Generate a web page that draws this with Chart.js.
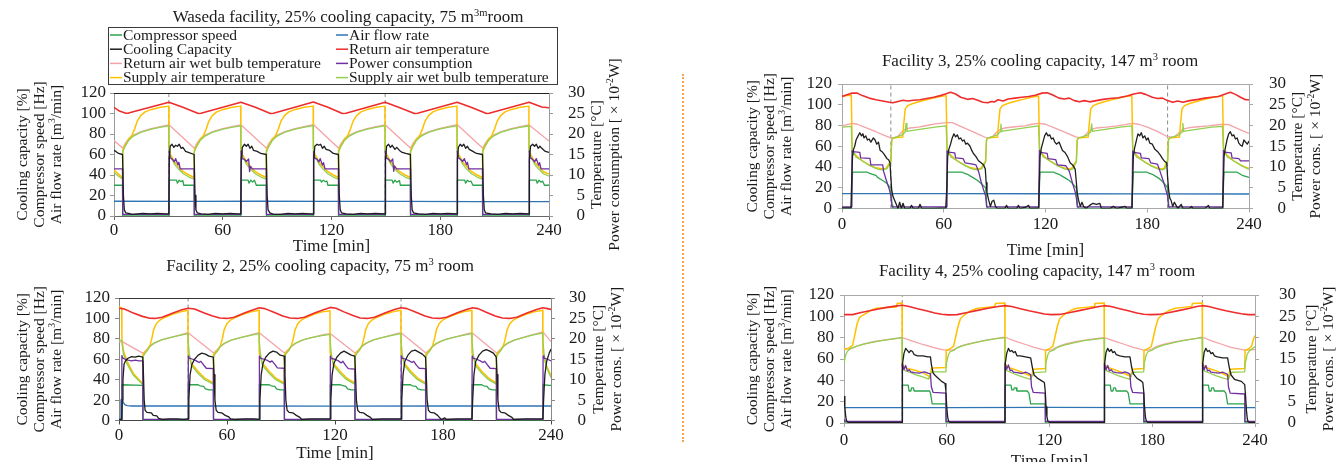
<!DOCTYPE html>
<html>
<head>
<meta charset="utf-8">
<script src="https://cdn.jsdelivr.net/npm/chart.js@4.4.1/dist/chart.umd.min.js"></script>
<style>
  html, body { margin: 0; padding: 0; background: #ffffff; }
  #wrap { position: relative; width: 1336px; height: 462px; overflow: hidden; background: #fff; }
  #wrap canvas { position: absolute; left: 0; top: 0; }
  #sep { position: absolute; left: 682px; top: 74px; height: 368px; border-left: 2px dotted #f2a54a; }
</style>
</head>
<body>
<div id="wrap">
  <div id="sep"></div>
  <canvas id="c1" width="1336" height="462"></canvas>
  <canvas id="c2" width="1336" height="462"></canvas>
  <canvas id="c3" width="1336" height="462"></canvas>
  <canvas id="c4" width="1336" height="462"></canvas>
</div>
<script>
// ---- Series values: flat [time(min), value, time, value, ...] ----
// Left axis: compressor speed [Hz], air flow [m3/min], cooling capacity [%]
// Right axis: temperatures [°C], power consumption [x10^-2 W]

// Waseda facility
const f1Comp = [0,30, 4.7,30, 4.8,0, 30.3,0, 30.4,35, 34.5,35, 35,32, 36,35, 37,33.5, 38,34.5, 38.5,30, 44.2,30, 44.3,0, 70,0, 70.1,35, 74,35, 74.5,32, 75.5,35, 76.5,33, 77.5,35, 78.5,30, 84,30, 84.1,0, 110,0, 110.1,35, 114,35, 114.5,33, 115.5,35, 116.5,33.5, 117.5,34, 118,30, 123.8,30, 123.9,0, 149.6,0, 149.7,35, 153.5,35, 154,32, 155,35, 156,33, 157.5,34.5, 158,30, 163.5,30, 163.6,0, 189.3,0, 189.4,35, 193.5,35, 194,32, 195,35, 196,33.5, 197,34, 198,30, 203.3,30, 203.4,0, 229,0, 229.1,35, 233,35, 233.5,32, 234.5,35, 235.5,33, 236.5,34, 237.5,30, 240,30];
const f1Flow = [0,14.4, 40,14.3, 80,14.4, 120,14.2, 160,14.3, 200,14.1, 240,14.0];
const f1Cap = [0,64, 1,63, 2.5,61, 4.7,60, 5.2,20, 5.7,6, 6.5,3, 8,2.5, 10,1.5, 13,2, 16,2.5, 20,2, 24,2.5, 28,2, 30.3,2,
  30.5,55, 31,68, 32,70, 33,67, 34,69, 35,68, 36,70, 37,66, 38,67, 39.5,63, 41,62, 44.2,60, 44.7,20, 45.2,6, 46,3, 48,2, 52,1.5, 56,2.5, 60,2, 64,2.5, 68,2, 70,2,
  70.2,55, 70.8,67, 72,70, 73,68, 74,70, 75,66, 76,68, 77,64, 79,63, 81,61, 84,60, 84.5,20, 85,6, 86,3, 88,1.5, 92,1.5, 96,2.5, 100,2, 104,2.5, 108,2, 110,2,
  110.2,55, 110.8,68, 112,70, 113,69, 114,70, 115,66, 116,68, 117,65, 119,64, 121,61, 123.8,60, 124.3,20, 124.8,6, 125.6,3, 128,2, 132,1.5, 136,2.5, 140,2, 144,2.5, 149.6,2,
  149.8,55, 150.4,68, 151.5,70, 152.5,67, 153.5,69, 155,65, 156,67, 157.5,64, 159,62, 161,61, 163.5,60, 164,20, 164.5,6, 165.3,3, 168,2, 172,1.5, 176,2.5, 180,2, 184,2.5, 189.3,2,
  189.5,55, 190,67, 191,70, 192,68, 193,70, 194,66, 195,68, 196,65, 198,63, 200,61, 203.3,60, 203.8,20, 204.3,6, 205,3, 208,2, 212,1.5, 216,2.5, 220,2, 224,2.5, 229,2,
  229.2,55, 229.8,68, 231,70, 232,68, 233,70, 234,66, 235,68, 236,66, 238,63, 240,62];
const f1Ret = [0,26.5, 3,25.6, 6.5,25.05, 8,25.1, 30.3,27.75, 38,26.5, 46.5,25.0, 48,25.05, 70,27.75, 78,26.5, 86.3,25.0, 88,25.05, 110,27.8, 118,26.5, 126,25.0, 128,25.05, 149.6,27.75, 157,26.5, 165.8,25.0, 167.5,25.05, 189.3,27.75, 197,26.5, 205.5,25.0, 207,25.05, 229,27.75, 236,26.6, 240,26.4];
const f1RetWb = [0,18.4, 4.7,16.6, 5.3,16.9, 6,17.6, 8,18.8, 11,19.8, 15,20.6, 20.5,21.3, 25.5,21.8, 30.3,22.25, 44.2,16.6, 44.8,16.9, 45.5,17.6, 47.5,18.8, 50.5,19.8, 54.5,20.6, 60,21.3, 65,21.8, 70,22.25, 84,16.6, 84.6,16.9, 85.3,17.6, 87.3,18.8, 90.3,19.8, 94.3,20.6, 99.8,21.3, 104.8,21.8, 110,22.3, 123.8,16.6, 124.4,16.9, 125.1,17.6, 127.1,18.8, 130.1,19.8, 134.1,20.6, 139.6,21.3, 144.6,21.8, 149.6,22.25, 163.5,16.6, 164.1,16.9, 164.8,17.6, 166.8,18.8, 169.8,19.8, 173.8,20.6, 179.3,21.3, 184.3,21.8, 189.3,22.3, 203.3,16.6, 203.9,16.9, 204.6,17.6, 206.6,18.8, 209.6,19.8, 213.6,20.6, 219.1,21.3, 224.1,21.8, 229,22.2, 240,18.3];
const f1Pow = [0,11.5, 4.7,11.5, 4.8,0.4, 30.3,0.4, 30.4,15.8, 30.9,14.2, 32.3,13.8, 33.3,13.2, 34,14, 35.3,12.5, 35.8,13.1, 36.5,11.5, 44.2,11.5, 44.3,0.4, 70,0.4, 70.1,15.8, 70.6,14.0, 72,13.8, 73,13.3, 74.3,13.9, 74.8,10.8, 75.3,12.1, 76.3,11.5, 84,11.5, 84.1,0.4, 110,0.4, 110.1,15.7, 110.6,14.1, 112,13.9, 113,13.2, 113.8,14, 115,12.4, 115.6,13, 116.4,11.5, 123.8,11.5, 123.9,0.4, 149.6,0.4, 149.7,15.8, 150.2,14.1, 151.6,13.8, 152.6,13.2, 153.8,13.9, 154.3,10.9, 154.8,12.2, 155.8,11.5, 163.5,11.5, 163.6,0.4, 189.3,0.4, 189.4,15.8, 189.9,14.2, 191.3,13.8, 192.3,13.3, 193.3,14, 194.5,12.5, 195,13.1, 195.8,11.5, 203.3,11.5, 203.4,0.4, 229,0.4, 229.1,15.9, 229.6,14.2, 231,13.8, 232,13.2, 233,14, 234.3,12.4, 234.8,13, 235.6,11.5, 240,11.5];
const f1Sup = [0,11.2, 2,10.4, 4.7,9.4, 4.8,16.1, 5.7,16.9, 6.7,17.6, 8,18.7, 9.7,19.5, 11.2,21, 12.7,23, 14.7,24.5, 17.2,25.4, 20.7,26, 25.7,26.5, 30.2,26.8,
  30.3,16.6, 31.2,15, 32.2,14.2, 33.3,13.3, 34.3,12.7, 35.3,12.2, 38.3,10.8, 41.3,10, 44.2,9.4, 44.3,16.1, 45.2,16.9, 46.2,17.6, 47.5,18.7, 49.2,19.5, 50.7,21, 52.2,23, 54.2,24.5, 56.7,25.4, 60.2,26, 65.2,26.5, 69.9,26.8,
  70,16.6, 70.9,15, 71.9,14.2, 73,13.3, 74,12.7, 75,12.2, 78,10.8, 81,10, 84,9.4, 84.1,16.1, 85,16.9, 86,17.6, 87.3,18.7, 89,19.5, 90.5,21, 92,23, 94,24.5, 96.5,25.4, 100,26, 105,26.5, 109.9,26.8,
  110,16.6, 110.9,15, 111.9,14.2, 113,13.3, 114,12.7, 115,12.2, 118,10.8, 121,10, 123.8,9.4, 123.9,16.1, 124.8,16.9, 125.8,17.6, 127.1,18.7, 128.8,19.5, 130.3,21, 131.8,23, 133.8,24.5, 136.3,25.4, 139.8,26, 144.8,26.5, 149.5,26.8,
  149.6,16.6, 150.5,15, 151.5,14.2, 152.6,13.3, 153.6,12.7, 154.6,12.2, 157.6,10.8, 160.6,10, 163.5,9.4, 163.6,16.1, 164.5,16.9, 165.5,17.6, 166.8,18.7, 168.5,19.5, 170,21, 171.5,23, 173.5,24.5, 176,25.4, 179.5,26, 184.5,26.5, 189.2,26.8,
  189.3,16.6, 190.2,15, 191.2,14.2, 192.3,13.3, 193.3,12.7, 194.3,12.2, 197.3,10.8, 200.3,10, 203.3,9.4, 203.4,16.1, 204.3,16.9, 205.3,17.6, 206.6,18.7, 208.3,19.5, 209.8,21, 211.3,23, 213.3,24.5, 215.8,25.4, 219.3,26, 224.3,26.5, 228.9,26.8,
  229,16.6, 229.9,15, 230.9,14.2, 232,13.3, 233,12.7, 234,12.2, 237,10.8, 240,10.2];
const f1SupWb = [0,10.6, 2,9.9, 4.7,9.0, 4.8,15.6, 5.7,16.6, 6.7,17.4, 8,18.4, 10.7,19.5, 14.7,20.4, 20.2,21.1, 25.2,21.6, 30.2,22.0,
  30.3,15.8, 31.3,14.4, 32.3,13.6, 33.3,12.7, 34.3,12.1, 35.3,11.6, 38.3,10.3, 41.3,9.5, 44.2,9.0, 44.3,15.6, 45.2,16.6, 46.2,17.4, 47.5,18.4, 50.2,19.5, 54.2,20.4, 59.7,21.1, 64.7,21.6, 69.9,22.0,
  70,15.8, 71,14.4, 72,13.6, 73,12.7, 74,12.1, 75,11.6, 78,10.3, 81,9.5, 84,9.0, 84.1,15.6, 85,16.6, 86,17.4, 87.3,18.4, 90,19.5, 94,20.4, 99.5,21.1, 104.5,21.6, 109.9,22.05,
  110,15.8, 111,14.4, 112,13.6, 113,12.7, 114,12.1, 115,11.6, 118,10.3, 121,9.5, 123.8,9.0, 123.9,15.6, 124.8,16.6, 125.8,17.4, 127.1,18.4, 129.8,19.5, 133.8,20.4, 139.3,21.1, 144.3,21.6, 149.5,22.0,
  149.6,15.8, 150.6,14.4, 151.6,13.6, 152.6,12.7, 153.6,12.1, 154.6,11.6, 157.6,10.3, 160.6,9.5, 163.5,9.0, 163.6,15.6, 164.5,16.6, 165.5,17.4, 166.8,18.4, 169.5,19.5, 173.5,20.4, 179,21.1, 184,21.6, 189.2,22.0,
  189.3,15.8, 190.3,14.4, 191.3,13.6, 192.3,12.7, 193.3,12.1, 194.3,11.6, 197.3,10.3, 200.3,9.5, 203.3,9.0, 203.4,15.6, 204.3,16.6, 205.3,17.4, 206.6,18.4, 209.3,19.5, 213.3,20.4, 218.8,21.1, 223.8,21.6, 228.9,21.95,
  229,15.8, 230,14.4, 231,13.6, 232,12.7, 233,12.1, 234,11.6, 237,10.3, 240,9.7];
const f1Marks = [30.3, 149.6];

// Facility 2
const f2Comp = [0,0, 1.5,0, 1.6,35, 13.2,34.5, 13.3,0, 38.4,0, 38.5,35, 44,35, 45,34, 47,33.5, 48,31, 50,30, 52.4,30, 52.5,0, 77.9,0, 78,35, 83.5,35, 84.5,34, 86.5,33.5, 87.5,31, 89.5,30, 91.8,30, 91.9,0, 117.3,0, 117.4,35, 123,35, 124,34.5, 126,33.5, 127,31, 129,30, 131,30, 131.1,0, 156.7,0, 156.8,35, 162,35, 163,34, 165,33.5, 166,31, 168,30, 170.3,30, 170.4,0, 196.1,0, 196.2,35, 201.5,35, 202.5,34, 204.5,33.5, 205.5,31, 207.5,30, 209.6,30, 209.7,0, 235.5,0, 235.6,35, 239,34.5, 240,34.5];
const f2Flow = [0,0.5, 0.8,2, 1.1,20, 1.6,22, 2.3,18, 3.2,15.5, 4.5,14.5, 7,14.2, 60,14.2, 120,14.1, 180,14.2, 240,14.2];
const f2Cap = [0,0.5, 1.5,0.5, 1.8,20, 2.2,40, 2.8,55, 3.5,58, 5,61, 7,62.5, 9,62, 11,63, 13.2,62, 13.5,50, 14,20, 14.5,10, 15.5,8, 18,7.5, 19,5, 21,4.5, 22,2, 24,1, 28,1.5, 32,1.5, 36,1.2, 38.4,1.5,
  38.8,20, 39.5,45, 40.5,55, 42,60, 44,64, 46,66, 48,65, 50,63, 52.4,62, 52.8,45, 53.3,20, 54,10, 55,8, 57,7.5, 59,5, 61,3.5, 62,1.5, 64,1, 70,1.5, 75,1.5, 77.9,1.2,
  78.3,20, 79,45, 80,56, 81.5,62, 83.5,66, 85.5,68, 87.5,67, 89.5,64, 91.8,63, 92.2,45, 92.7,20, 93.4,10, 94.5,8, 96.5,7.5, 98.5,5, 100.5,3, 101.5,1, 106,1.5, 112,1.5, 117.3,1.5,
  117.7,20, 118.4,45, 119.4,56, 121,62, 123,66, 125,68, 127,66, 129,64, 131,63, 131.4,45, 131.9,20, 132.6,10, 133.7,8, 135.7,7.5, 137.7,5, 139.7,3, 140.7,1, 146,1.5, 152,1.5, 156.7,1.5,
  157.1,20, 157.8,45, 158.8,58, 160.5,64, 162.5,68, 164.5,69, 166.5,67, 168.5,65, 170.3,62, 170.7,45, 171.2,20, 171.9,10, 173,8, 175,7.5, 177,5, 178,3, 179,1, 181,2.5, 182,1, 188,1.5, 196.1,1.5,
  196.5,20, 197.2,45, 198.2,58, 200,64, 202,68, 204,69.5, 206,68, 208,66, 209.6,62, 210,45, 210.5,20, 211.2,10, 212.3,8, 214.3,7.5, 216.3,5, 218.3,3, 219.3,1, 226,1.5, 235.5,1.5,
  235.9,20, 236.6,45, 237.6,58, 239,66, 240,70];
const f2Ret = [0,27.5, 3,27.3, 8,26.3, 13,25.5, 17,25.05, 20,25.0, 24,25.3, 30,26.3, 35,27.1, 38.4,27.5, 42,27.3, 47,26.4, 52,25.6, 56,25.1, 60,25.0, 64,25.3, 70,26.4, 75,27.2, 78,27.6, 81,27.4, 86,26.5, 91,25.6, 95,25.1, 99,25.0, 103,25.3, 109,26.4, 114,27.2, 117.5,27.7, 120.5,27.5, 125,26.6, 130,25.7, 134,25.1, 138,25.0, 142,25.3, 148,26.4, 153,27.2, 156.7,27.6, 160,27.4, 165,26.5, 170,25.6, 174,25.1, 178,25.0, 182,25.3, 188,26.4, 193,27.2, 196.5,27.6, 199.5,27.4, 204,26.5, 209,25.6, 213,25.1, 217,25.0, 221,25.3, 227,26.4, 232,27.2, 235.5,27.6, 238,27.4, 240,27.2];
const f2RetWb = [0,19.25, 2,19.25, 13.2,16.5, 13.8,16.6, 15,17.2, 17,18.1, 20,19, 24,19.8, 30,20.5, 35,21.1, 38.4,21.5, 52.4,16.6, 53,16.7, 54.2,17.2, 56.2,18.1, 59.2,19, 63.2,19.8, 69.2,20.5, 74.2,21.1, 77.9,21.5, 91.8,16.6, 92.4,16.7, 93.6,17.2, 95.6,18.1, 98.6,19, 102.6,19.8, 108.6,20.5, 113.6,21.0, 117.3,21.3, 131,16.6, 131.6,16.7, 132.8,17.2, 134.8,18.1, 137.8,19, 141.8,19.8, 147.8,20.5, 152.8,21.1, 156.7,21.5, 170.3,16.6, 170.9,16.7, 172.1,17.2, 174.1,18.1, 177.1,19, 181.1,19.8, 187.1,20.5, 192.1,21.1, 196.1,21.5, 209.6,16.6, 210.2,16.7, 211.4,17.2, 213.4,18.1, 216.4,19, 220.4,19.8, 226.4,20.6, 231.4,21.2, 235.5,21.7, 240,19.3];
const f2Pow = [0,0.3, 1.5,0.3, 1.6,15.9, 2.1,15.3, 3,15.1, 5,14.8, 7,14.6, 9,14.8, 11,14.6, 13.2,14.6, 13.3,0.3,
  38.4,0.3, 38.5,15.8, 39,15.3, 41,15, 43,14.6, 44.5,14.2, 45.5,14.5, 47,13.6, 48.5,12.8, 52.4,12.7, 52.5,0.3,
  77.9,0.3, 78,15.8, 78.5,15.3, 80.5,15, 82.5,14.7, 84,14.3, 85,14.6, 86.5,13.8, 88,12.9, 91.8,12.8, 91.9,0.3,
  117.3,0.3, 117.4,15.8, 117.9,15.2, 119.9,15, 121.9,14.6, 123.4,14.1, 124.4,14.5, 125.9,13.5, 127.4,12.7, 131,12.6, 131.1,0.3,
  156.7,0.3, 156.8,15.8, 157.3,15.3, 159.3,15, 161.3,14.6, 162.8,14.2, 163.8,14.5, 165.3,13.5, 166.8,12.8, 170.3,12.7, 170.4,0.3,
  196.1,0.3, 196.2,15.8, 196.7,15.3, 198.7,15, 200.7,14.6, 202.2,14.2, 203.2,14.5, 204.7,13.6, 206.2,12.8, 209.6,12.7, 209.7,0.3,
  235.5,0.3, 235.6,15.8, 236.1,15.3, 238.1,15, 240,14.6];
const f2Sup = [0,27.8, 1.5,27.6, 1.6,20, 2.5,17, 4.5,14.5, 8,11.5, 13.2,9.0,
  13.3,16.2, 14.2,16.6, 15.7,17.3, 17.2,18.4, 18.2,20, 19.2,22.2, 20.7,23.7, 22.7,24.6, 25.7,25.3, 29.7,26, 34.2,26.6, 38.3,27.0,
  38.4,16.5, 40.2,14, 44,12, 47.6,10.4, 52.4,9.2,
  52.5,16.2, 53.4,16.6, 54.9,17.3, 56.4,18.4, 57.4,20, 58.4,22.2, 59.9,23.7, 61.9,24.6, 64.9,25.3, 68.9,26, 73.4,26.6, 77.8,27.0,
  77.9,16.5, 79.7,14, 83.5,12, 87.1,10.4, 91.8,9.2,
  91.9,16.2, 92.8,16.6, 94.3,17.3, 95.8,18.4, 96.8,20, 97.8,22.2, 99.3,23.7, 101.3,24.6, 104.3,25.3, 108.3,26, 112.8,26.6, 117.2,26.9,
  117.3,16.5, 119.1,14, 122.9,12, 126.5,10.4, 131,9.2,
  131.1,16.2, 132,16.6, 133.5,17.3, 135,18.4, 136,20, 137,22.2, 138.5,23.7, 140.5,24.6, 143.5,25.3, 147.5,26, 152,26.6, 156.6,27.0,
  156.7,16.5, 158.5,14, 162.3,12, 165.9,10.4, 170.3,9.2,
  170.4,16.2, 171.3,16.6, 172.8,17.3, 174.3,18.4, 175.3,20, 176.3,22.2, 177.8,23.7, 179.8,24.6, 182.8,25.3, 186.8,26, 191.3,26.6, 196,27.0,
  196.1,16.5, 197.9,14, 201.7,12, 205.3,10.4, 209.6,9.2,
  209.7,16.2, 210.6,16.6, 212.1,17.3, 213.6,18.4, 214.6,20, 215.6,22.2, 217.1,23.7, 219.1,24.6, 222.1,25.3, 226.1,26, 230.6,26.6, 235.4,27.0,
  235.5,16.5, 237.3,13.6, 240,11];
const f2SupWb = [0,19.7, 1.5,19.6, 1.6,19.2, 2.5,16.2, 4.5,13.8, 8,11.1, 13.2,8.8,
  13.3,15.5, 14.2,16.3, 15.7,17.1, 17.2,18.2, 19.2,18.9, 23.2,19.7, 28.2,20.3, 33.2,20.8, 38.3,21.3,
  38.4,19.5, 39,16.5, 40.2,13.5, 44,11.5, 47.6,10, 52.4,8.9,
  52.5,15.5, 53.4,16.3, 54.9,17.1, 56.4,18.2, 58.4,18.9, 62.4,19.7, 67.4,20.3, 72.4,20.8, 77.8,21.3,
  77.9,19.5, 78.5,16.5, 79.7,13.5, 83.5,11.5, 87.1,10, 91.8,8.9,
  91.9,15.5, 92.8,16.3, 94.3,17.1, 95.8,18.2, 97.8,18.9, 101.8,19.7, 106.8,20.3, 111.8,20.7, 117.2,21.1,
  117.3,19.5, 117.9,16.5, 119.1,13.5, 122.9,11.5, 126.5,10, 131,8.9,
  131.1,15.5, 132,16.3, 133.5,17.1, 135,18.2, 137,18.9, 141,19.7, 146,20.3, 151,20.8, 156.6,21.3,
  156.7,19.5, 157.3,16.5, 158.5,13.5, 162.3,11.5, 165.9,10, 170.3,8.9,
  170.4,15.5, 171.3,16.3, 172.8,17.1, 174.3,18.2, 176.3,18.9, 180.3,19.7, 185.3,20.3, 190.3,20.8, 196,21.3,
  196.1,19.5, 196.7,16.5, 197.9,13.5, 201.7,11.5, 205.3,10, 209.6,8.9,
  209.7,15.5, 210.6,16.3, 212.1,17.1, 213.6,18.2, 215.6,18.9, 219.6,19.7, 224.6,20.3, 229.6,20.9, 235.4,21.4,
  235.5,19.5, 236.1,16.5, 237.3,13.2, 240,10.5];
const f2Marks = [38.4, 156.7];

// Facility 3
const f3Comp = [0,0, 5.5,0, 6.2,35, 15,35, 16,34, 18,33, 20,32, 21,30, 23,28, 25,26, 26.5,24, 28,21, 28.8,20, 29.5,3, 30,0,
  61.5,0, 62.2,35, 71,35, 72,34, 74,33, 76,31, 78,29, 80,27, 82,24, 84,21, 84.7,20, 85.4,2, 86,0,
  116,0, 116.7,35, 125,35, 126,34, 128,33, 130,31, 132,29, 134,27, 136,24, 137.5,21, 138.2,20, 138.9,2, 139.5,0,
  171,0, 171.7,35, 180,35, 181,34, 183,33, 185,31, 187,29, 189,26, 191,22, 192,20, 192.7,2, 193.3,0,
  224.5,0, 225.2,35, 233,35, 234,34, 236,32, 238,31, 240,30];
const f3Flow = [0,14.4, 60,14.3, 120,14.2, 180,14.1, 240,14.0];
const f3Cap = [0,0.5, 5.3,0.5, 5.6,20, 6.2,50, 6.8,57, 7.5,60, 8.3,66, 9.5,70, 10.5,73, 11.5,70, 12.3,72, 13,68, 14,70, 15,66, 16,67, 17,64, 18.5,68, 19.5,66, 20.5,62, 21.5,64, 22.5,56, 23.5,55, 25,52, 26.5,48, 27.5,47, 28.3,44, 28.8,30, 29.3,18, 30,12, 31,8, 32,4, 33,0, 34,6, 35,0, 36,5, 37,0, 40,0, 41,3, 42,0, 45,0, 46,4, 47,0, 54,0, 61.2,0.5,
  61.8,20, 62.3,50, 63,57, 64,62, 65,68, 66,72, 67,69, 68,71, 69,67, 70,68, 71,65, 72,66, 73,62, 74,63, 75.5,60, 76.5,56, 77.5,53, 79,50, 80.5,46, 82,44, 83.5,42, 84.5,38, 85,25, 85.5,15, 86.5,8, 87.5,2, 88.5,7, 89.5,8, 90.5,2, 91.5,0, 96,0, 97,3, 98,0, 103,0, 104,3, 105,0, 108,1, 110,3, 111,0, 116,0.5,
  116.3,20, 116.8,50, 117.5,58, 118.5,64, 119.5,70, 120.5,73, 121.5,70, 122.5,71, 123.5,67, 124.5,68, 125.5,64, 126.5,62, 128,64, 129,60, 130,56, 131.5,54, 133,50, 134.5,44, 136,42, 137.5,38, 138.2,25, 138.7,15, 139.5,8, 140.5,2, 141.5,6, 142.5,2, 144,0, 146,3, 148,5, 150,4, 152,5, 153,0, 158,0, 160,2, 162,0, 167,2, 168,0, 171,0.5,
  171.3,20, 171.8,50, 172.5,58, 173.5,65, 174.5,72, 175.5,70, 176.5,73, 177.5,68, 178.5,70, 179.5,66, 180.5,68, 181.5,63, 183,62, 184.5,57, 186,55, 187.5,52, 189,48, 190.5,45, 191.5,44, 192,30, 192.6,18, 193.3,10, 194,8, 195,2, 196,6, 197,3, 198,0, 200,4, 201,0, 205,0, 206,2, 207,0, 214,0, 216,3, 217,0, 224.5,0.5,
  224.8,20, 225.3,50, 226,58, 227,66, 228,72, 229,74, 230,70, 231,71, 232,67, 233,68, 234,63, 235,61, 236,60, 237,66, 238,64, 239,62, 240,65];
const f3Ret = [0,27, 3,27.4, 6,27.8, 9,27.8, 12,27.2, 16,26.6, 20,26.2, 24,25.9, 28,25.6, 30,25.5, 33,25.8, 36,26.1, 39,25.9, 42,26.1, 46,26.2, 50,26.5, 54,26.8, 58,27.2, 61,27.6, 64,28, 67,27.6, 70,26.8, 74,26.3, 77,26.5, 80,26.1, 83,25.6, 86,25.5, 88,25.8, 90,25.7, 92,26.2, 95,25.9, 98,26.4, 102,26.6, 106,26.8, 110,27.0, 114,27.3, 118,27.8, 121,27.9, 124,27.4, 128,26.6, 131,26.4, 134,26.6, 137,26.0, 140,25.7, 143,26.0, 146,25.7, 150,26.0, 154,26.3, 158,26.5, 163,26.7, 168,27.1, 172,27.6, 176,27.9, 179,27.5, 183,26.8, 186,26.5, 189,26.6, 192,26.0, 195,25.6, 198,25.9, 201,25.6, 205,26.0, 210,26.3, 214,26.6, 218,26.8, 222,27.0, 226,27.6, 229,28.0, 232,27.5, 235,26.8, 238,26.2, 240,26.2];
const f3RetWb = [0,19.9, 3,20.2, 6,20.5, 9,20.3, 14,19.5, 20,18.5, 25,17.6, 28.8,17, 31,17, 33,17.4, 35,18.3, 37,19, 40,19.4, 45,19.6, 50,20.0, 55,20.4, 61.5,20.7, 65,20.7, 70,19.8, 75,18.9, 80,18, 84.7,17.1, 87,17, 89,17.4, 91,18.3, 93,19, 96,19.4, 102,19.7, 108,19.9, 112,20.3, 116,20.5, 120,20.3, 126,19.3, 132,18.3, 138.2,17.2, 141,17.1, 143,17.5, 145,18.4, 147,19.0, 150,19.4, 156,19.6, 162,19.9, 167,20.2, 171,20.5, 175,20.3, 180,19.6, 186,18.6, 192,17.3, 195,17.2, 197,17.6, 199,18.4, 201,19.1, 205,19.5, 210,19.7, 216,19.9, 224.5,20.3, 228,20.2, 233,19.3, 237,18.6, 240,18.1];
const f3Pow = [0,0.4, 5.8,0.4, 5.9,13.9, 6.5,13.7, 10.5,13.5, 11,12.2, 16.5,12.1, 17,10.5, 24,10.5, 24.5,9, 26,7, 28,4.5, 28.8,3, 29.5,0.4,
  61.5,0.4, 61.9,13.9, 62.5,13.6, 66.5,13.4, 67,12.2, 71.5,12, 72.5,11, 77,10.7, 79,10.5, 80.5,9, 82,6.5, 83.5,4.5, 84.7,3, 85.3,0.4,
  116,0.4, 116.4,14, 117,13.5, 121,13.3, 121.5,12, 126,11.8, 127,10.5, 132,10.3, 134,9, 136,6, 137.5,4, 138.2,2.5, 138.8,0.4,
  171,0.4, 171.4,13.8, 172,13.5, 176,13.3, 176.5,12.2, 181,12, 182,11, 186,10.7, 187.5,9, 189.5,6.5, 191,4.5, 192,3, 192.6,0.4,
  224.5,0.4, 224.9,14, 225.5,13.6, 229.5,13.4, 230,12.2, 234,12, 235,11.5, 240,11.5];
const f3Sup = [0,27.0, 3,27.2, 5.5,27.3, 6,14, 7,13.3, 9,12.5, 12,11.5, 16,10.5, 20,9.8, 24,9.5, 26,9.7, 28,11, 28.8,11.5,
  29.3,16.5, 30,17, 35.8,17.2, 36.3,20, 37.3,24, 38.8,24.8, 41.8,25.3, 45.8,25.8, 50.8,26.3, 55.8,26.8, 61.4,27.2,
  62,14, 63,13.3, 65,12.5, 68,11.5, 72,10.5, 76,9.8, 80,9.5, 82,9.7, 83.9,11, 84.7,11.5,
  85.2,16.5, 85.9,17, 91.7,17.2, 92.2,20, 93.2,24, 94.7,24.8, 97.7,25.3, 101.7,25.8, 106.7,26.3, 111.7,26.8, 115.9,27.1,
  116.5,14, 117.5,13.3, 119.5,12.5, 122.5,11.5, 126.5,10.5, 130.5,9.8, 134,9.5, 135.5,9.7, 137.4,11, 138.2,11.5,
  138.7,16.5, 139.4,17, 145.2,17.2, 145.7,20, 146.7,24, 148.2,24.8, 151.2,25.3, 155.2,25.8, 160.2,26.3, 165.2,26.8, 170.9,27.2,
  171.5,14, 172.5,13.3, 174.5,12.5, 177.5,11.5, 181.5,10.5, 185.5,9.8, 188.5,9.5, 190,9.7, 191.2,11, 192,11.5,
  192.5,16.5, 193.2,17, 199,17.2, 199.5,20, 200.5,24, 202,24.8, 205,25.3, 209,25.8, 214,26.3, 219,26.8, 224.4,27.2,
  225,14, 226,13.3, 228,12.5, 231,11.5, 235,10.5, 239,9.8, 240,9.7];
const f3SupWb = [0,19.6, 5.5,19.8, 6,13.8, 6.5,13, 7,13.8, 8,12.5, 10,12, 13,11.2, 17,10.2, 21,9.5, 24,9.3, 26.5,9.6, 28,10.7, 28.8,11.2,
  29.3,16.5, 30,17, 32.8,17.3, 35.8,17.8, 37.3,18.5, 37.8,20.5, 38.3,18.6, 39.8,18.7, 44.8,19.0, 49.8,19.3, 54.8,19.6, 61.4,19.9,
  62,13.8, 62.5,13, 63,13.8, 64,12.5, 66,12, 69,11.2, 73,10.2, 77,9.5, 80,9.3, 82.5,9.6, 83.9,10.7, 84.7,11.2,
  85.2,16.5, 85.9,17, 88.7,17.3, 91.7,17.8, 93.2,18.5, 93.7,20.3, 94.2,18.6, 95.7,18.7, 100.7,19.0, 105.7,19.3, 110.7,19.6, 115.9,19.9,
  116.5,13.8, 117,13, 117.5,13.8, 118.5,12.5, 120.5,12, 123.5,11.2, 127.5,10.2, 131.5,9.5, 134.5,9.3, 136.5,9.6, 137.4,10.7, 138.2,11.2,
  138.7,16.5, 139.4,17, 142.2,17.3, 145.2,17.8, 146.7,18.5, 147.2,20.4, 147.7,18.6, 149.2,18.7, 154.2,19.0, 159.2,19.3, 164.2,19.6, 170.9,19.9,
  171.5,13.8, 172,13, 172.5,13.8, 173.5,12.5, 175.5,12, 178.5,11.2, 182.5,10.2, 186.5,9.5, 189,9.3, 190.5,9.6, 191.2,10.7, 192,11.2,
  192.5,16.5, 193.2,17, 196,17.3, 199,17.8, 200.5,18.5, 201,20.5, 201.5,18.6, 203,18.7, 208,19.0, 213,19.3, 218,19.6, 224.4,19.8,
  225,13.8, 225.5,13, 226,13.8, 227,12.5, 229,12, 232,11.2, 236,10.2, 240,9.4];
const f3Marks = [28.8, 192];

// Facility 4
const f4Comp = [0,0, 34,0, 34.1,35.5, 37.5,35.5, 38,30, 39,30, 39.5,33, 40.5,33, 41,30, 50,30, 50.5,28, 51.5,18, 59.5,18, 59.6,0, 94,0, 94.1,35.5, 97.5,35.5, 98,31, 99,31, 99.5,33, 100.5,33, 101,30, 107,30, 108,28, 109,18, 117.5,18, 117.6,0, 152,0, 152.1,35.5, 155.5,35.5, 156,30, 157,30, 157.5,33, 158.5,33, 159,30, 165,30, 166,28, 167,18, 175,18, 175.1,0, 209.3,0, 209.4,35.5, 212.8,35.5, 213.3,30, 214.3,30, 214.8,33, 215.8,33, 216.3,30, 222,30, 223,28, 224,18, 234,18, 234.1,0, 240,0];
const f4Flow = [0,14.5, 60,14.5, 120,14.6, 180,14.5, 240,14.4];
const f4Cap = [0,25, 0.5,15, 1,6, 1.5,2, 2.5,0.5, 34,0.5, 34.1,55, 35,65, 36,70, 37,68, 38,66, 39,68, 40,67, 41,64, 43,63, 46,63, 49,62, 50.5,62, 51,55, 52,47, 53,45, 55,42, 57,39, 59,37, 59.5,30, 60,15, 60.5,6, 61,2, 62,0.5, 94,0.5,
  94.1,55, 95,65, 96,70, 97,67, 98,68, 99,66, 100,67, 101,63, 103,63, 106,62, 109,61, 110,52, 111,45, 113,42, 115,40, 117,38, 117.5,30, 118,15, 118.5,6, 119,2, 120,0.5, 152,0.5,
  152.1,55, 153,66, 154,70, 155,67, 156,69, 157,66, 158,67, 159,64, 161,63, 164,62, 167,62, 168,52, 169,46, 171,42, 173,40, 174.5,38, 175,30, 175.5,15, 176,6, 176.5,2, 177.5,0.5, 209.3,0.5,
  209.4,55, 210.3,66, 211.3,70, 212.3,67, 213.3,68, 214.3,65, 215.3,66, 216.3,63, 218,62, 221,61, 224,61, 225,52, 226,45, 228,41, 230,40, 232,39, 234,36, 234.5,25, 235,12, 235.5,4, 236,1, 237,0.5, 240,0.5];
const f4Ret = [0,25.4, 5,25.4, 10,25.9, 15,26.3, 20,26.7, 25,27.1, 30,27.4, 34,27.6, 38,27.3, 43,26.8, 48,26.3, 53,25.8, 57,25.5, 61,25.35, 66,25.4, 72,25.9, 78,26.4, 84,26.9, 90,27.3, 94,27.5, 98,27.3, 103,26.8, 108,26.3, 113,25.9, 117,25.55, 121,25.4, 126,25.45, 132,25.9, 138,26.4, 144,26.9, 149,27.3, 152,27.5, 156,27.3, 161,26.8, 166,26.3, 171,25.8, 175,25.5, 179,25.4, 184,25.45, 190,25.9, 196,26.4, 202,26.9, 206,27.3, 209.3,27.5, 213,27.3, 218,26.8, 223,26.3, 228,25.9, 232,25.6, 236,25.4, 240,25.4];
const f4RetWb = [0,17.3, 4,17.4, 6,17.7, 8,18.1, 12,18.6, 18,19.1, 24,19.5, 30,19.8, 34,20, 40,19.2, 46,18.4, 52,17.7, 56,17.3, 59.5,17.1, 63,17.1, 65,17.4, 68,18.0, 72,18.5, 78,19.0, 84,19.5, 90,19.9, 94,20.1, 100,19.2, 106,18.4, 111,17.7, 115,17.3, 117.5,17.1, 121,17.1, 123,17.5, 126,18.1, 130,18.6, 136,19.1, 142,19.5, 148,19.8, 152,20, 158,19.2, 164,18.4, 169,17.7, 173,17.3, 175,17.1, 178,17.1, 180,17.4, 183,18, 187,18.5, 193,19.0, 199,19.4, 205,19.8, 209.3,20.1, 215,19.2, 221,18.4, 226,17.7, 231,17.3, 234,17.1, 240,17.2];
const f4Pow = [0,0.8, 0.5,0.4, 34,0.4, 34.1,14, 35,12.5, 36,13.5, 37,12.2, 38,12.5, 39,12, 41,11.8, 44,11.7, 47,12, 49,11.7, 50.5,11.5, 51,8.5, 52,7.2, 59.5,7, 59.6,0.4, 94,0.4,
  94.1,14, 95,12.6, 96,13.6, 97,12.3, 98,12.4, 99,11.9, 101,11.8, 104,11.6, 106,11.9, 108,11.6, 109,11.3, 109.5,8.5, 110.5,7.2, 117.5,7, 117.6,0.4, 152,0.4,
  152.1,14, 153,12.5, 154,13.5, 155,12.2, 156,12.5, 157,12, 159,11.8, 162,11.7, 164,12, 166,11.7, 167,11.4, 167.5,8.5, 168.5,7.2, 175,7, 175.1,0.4, 209.3,0.4,
  209.4,14, 210.3,12.5, 211.3,13.5, 212.3,12.2, 213.3,12.4, 214.3,11.9, 216.3,11.8, 219,11.7, 221,11.9, 223,11.6, 224,11.4, 224.5,8.5, 225.5,7, 234,6.8, 234.1,0.4, 240,0.4];
const f4Sup = [0,17.2, 3,17.6, 5,18.2, 6,20, 7.5,23, 9,24.7, 11,25.3, 13,25.7, 15,26.3, 17,26.6, 19,26.9, 23,27, 28,27.1, 30.5,27.2, 31,28, 33.9,28.1,
  34,14, 35,13.2, 37,12.8, 39,12.6, 42,12.3, 46,11.8, 49.5,11, 50,10.5, 51,12.7, 52,12.9, 59.5,13,
  59.7,17, 62,17.4, 64,18, 65,19.8, 66.5,22.5, 68,24.5, 70,25.2, 72,25.8, 75,26.5, 78,26.9, 83,27.1, 88,27.3, 88.5,28, 93.9,28.1,
  94,14, 95,13.3, 97,12.9, 100,12.5, 104,11.9, 108,11.2, 109.5,10.8, 110.5,12.6, 117.5,12.8,
  117.7,17, 120,17.4, 122,18, 123,19.8, 124.5,22.5, 126,24.5, 128,25.2, 130,25.8, 133,26.5, 136,26.9, 141,27.1, 146,27.3, 146.5,28, 151.9,28.1,
  152,14, 153,13.3, 155,12.9, 158,12.5, 162,11.9, 166,11.2, 167.5,10.8, 168.5,12.6, 175,12.8,
  175.2,17, 177.5,17.4, 179.5,18, 180.5,19.8, 182,22.5, 183.5,24.5, 185.5,25.2, 187.5,25.8, 190.5,26.5, 193.5,26.9, 198,27.1, 203,27.3, 203.5,28, 209.2,28.1,
  209.3,14, 210.3,13.3, 212.3,12.9, 215.3,12.5, 219.3,11.9, 223.3,11.2, 224.5,10.6, 225.5,12.6, 234,12.8,
  234.2,17, 236.5,17.4, 238,18, 239,19.5, 240,20.5];
const f4SupWb = [0,14, 1,16, 2,16.8, 4,17.5, 6,17.8, 10,18.3, 15,18.8, 20,19.2, 25,19.5, 30,19.8, 33.9,20,
  34.1,12.7, 36,12.2, 39,11.8, 42,11.3, 46,10.8, 49.5,10.3, 50.5,11.5, 51.5,12, 59.5,12,
  59.8,14, 61,16, 62,16.7, 64.5,17.1, 66,17.6, 70,18.2, 76,18.8, 82,19.3, 88,19.7, 93.9,20,
  94.1,12.5, 96,12.1, 99,11.6, 102,11.1, 106,10.6, 109,10.2, 110,11.3, 111,11.8, 117.5,12,
  117.8,14, 119,16, 120,16.7, 122.5,17.1, 124,17.6, 128,18.2, 134,18.8, 140,19.3, 146,19.6, 151.9,19.9,
  152.1,12.6, 154,12.1, 157,11.6, 160,11.1, 164,10.6, 167,10.3, 168,11.4, 169,11.9, 175,12,
  175.3,14, 176.5,16, 177.5,16.7, 180,17.1, 182,17.6, 186,18.2, 192,18.8, 198,19.3, 204,19.7, 209.2,20,
  209.4,12.6, 211,12.1, 214,11.6, 217,11.1, 221,10.6, 224.5,10.2, 225.5,11.4, 226.5,11.9, 234,12,
  234.3,14, 235.5,16.2, 237,17, 240,17.9];
const f4Marks = [34, 209.3];

// ---- Text ----
const seriesLabels = ['Compressor speed', 'Air flow rate', 'Cooling Capacity', 'Return air temperature',
  'Return air wet bulb temperature', 'Power consumption', 'Supply air temperature', 'Supply air wet bulb temperature'];
const leftTitle = [[['Cooling capacity [%]']], [['Compressor speed [Hz]']], [['Air flow rate [m'], ['3', 1], ['/min]']]];
const tempTitle = [['Temperature [°C]']];
const powerLong = [['Power consumption [ × 10'], ['-2', 1], ['W]']];
const powerShort = [['Power cons. [ × 10'], ['-2', 1], ['W]']];
const timeTitle = [['Time [min]']];
const title1 = [['Waseda facility, 25% cooling capacity, 75 m'], ['3m', 1], ['room']];
const title2 = [['Facility 2, 25% cooling capacity, 75 m'], ['3', 1], [' room']];
const title3 = [['Facility 3, 25% cooling capacity, 147 m'], ['3', 1], [' room']];
const title4 = [['Facility 4, 25% cooling capacity, 147 m'], ['3', 1], [' room']];

// ---- Styles ----
const FONT = '"Liberation Serif", "Times New Roman", serif';
const TXT = '#1a1a1a';
const seriesStyle = [
  { color: '#2ea44f', axis: 'y',  width: 1.3, order: 3 },
  { color: '#2e75b6', axis: 'y',  width: 1.3, order: 8 },
  { color: '#1e1e1e', axis: 'y',  width: 1.3, order: 1 },
  { color: '#ee2c2c', axis: 'y2', width: 1.6, order: 4 },
  { color: '#f4a3a8', axis: 'y2', width: 1.3, order: 7 },
  { color: '#7030a0', axis: 'y2', width: 1.3, order: 2 },
  { color: '#ffc000', axis: 'y2', width: 1.5, order: 6 },
  { color: '#92d050', axis: 'y2', width: 1.3, order: 5 }
];
const LEFT_W = 44, X_H = 30;

const panels = [
  { canvas: 'c1', plot: { l: 114, r: 549, t: 93, b: 216 }, tickRight: 585, xPad: 0, yPad: 4,
    series: [f1Comp, f1Flow, f1Cap, f1Ret, f1RetWb, f1Pow, f1Sup, f1SupWb], marks: f1Marks,
    title: title1, titleAt: [348, 17], leftX: [22, 39, 56], rightX: [596, 614], power: powerLong, timeY: 246,
    legend: true, top: '#222', axis: '#9a9a9a', bottom: '#666' },
  { canvas: 'c2', plot: { l: 119, r: 551, t: 298, b: 420.5 }, tickRight: 586, xPad: 1, yPad: 5,
    series: [f2Comp, f2Flow, f2Cap, f2Ret, f2RetWb, f2Pow, f2Sup, f2SupWb], marks: f2Marks,
    title: title2, titleAt: [320, 266], leftX: [22, 39, 56], rightX: [598, 616], power: powerShort, timeY: 453,
    legend: false, top: '#333', axis: '#888', bottom: '#444' },
  { canvas: 'c3', plot: { l: 842, r: 1249, t: 84, b: 208.5 }, tickRight: 1286, xPad: 2, yPad: 6,
    series: [f3Comp, f3Flow, f3Cap, f3Ret, f3RetWb, f3Pow, f3Sup, f3SupWb], marks: f3Marks,
    title: title3, titleAt: [1040, 61], leftX: [752, 769, 786], rightX: [1297, 1315], power: powerShort, timeY: 250,
    legend: false, top: '#a8a8a8', axis: '#a8a8a8', bottom: '#a8a8a8' },
  { canvas: 'c4', plot: { l: 844, r: 1255, t: 295, b: 423 }, tickRight: 1296, xPad: 3, yPad: 6,
    series: [f4Comp, f4Flow, f4Cap, f4Ret, f4RetWb, f4Pow, f4Sup, f4SupWb], marks: f4Marks,
    title: title4, titleAt: [1037, 271], leftX: [752, 769, 786], rightX: [1311, 1328], power: powerShort, timeY: 461,
    legend: false, top: '#a8a8a8', axis: '#a8a8a8', bottom: '#a8a8a8' }
];

// ---- Helpers ----
function pts(a) { const o = []; for (let i = 0; i + 1 < a.length; i += 2) o.push({ x: a[i], y: a[i + 1] }); return o; }
function setFont(ctx, px) { ctx.font = px + 'px ' + FONT; }
function richWidth(ctx, parts, px) {
  let w = 0;
  for (const p of parts) { setFont(ctx, p[1] ? px * 0.62 : px); w += ctx.measureText(p[0]).width; }
  return w;
}
function drawRich(ctx, parts, x, y, px, align) {
  const w = richWidth(ctx, parts, px);
  let cx = align === 'center' ? x - w / 2 : (align === 'right' ? x - w : x);
  ctx.textAlign = 'left'; ctx.textBaseline = 'alphabetic';
  for (const p of parts) {
    setFont(ctx, p[1] ? px * 0.62 : px);
    ctx.fillText(p[0], cx, p[1] ? y - px * 0.36 : y);
    cx += ctx.measureText(p[0]).width;
  }
}
function drawCentered(ctx, parts, cx, cy, px, rot) {
  ctx.save(); ctx.translate(cx, cy); if (rot) ctx.rotate(rot);
  drawRich(ctx, parts, 0, px * 0.32, px, 'center');
  ctx.restore();
}
function drawLegend(ctx, datasets) {
  ctx.strokeStyle = '#3a3a3a'; ctx.lineWidth = 1;
  ctx.strokeRect(108.5, 27.5, 449, 57);
  for (let i = 0; i < 8; i++) {
    const col = i % 2, row = Math.floor(i / 2);
    const x = col ? 336 : 110, y = 34.5 + row * 14.2;
    ctx.strokeStyle = datasets[i].borderColor; ctx.lineWidth = 1.5;
    ctx.beginPath(); ctx.moveTo(x, y + 0.5); ctx.lineTo(x + 12, y + 0.5); ctx.stroke();
    ctx.fillStyle = TXT;
    drawRich(ctx, [[datasets[i].label]], x + 13, y + 5, 15.5, 'left');
  }
}
function textPlugin(p) {
  return {
    id: 'panelText',
    afterDraw(chart) {
      const ctx = chart.ctx, a = chart.chartArea;
      ctx.save();
      ctx.strokeStyle = p.top; ctx.lineWidth = 1;
      const ty = Math.round(a.top) + 0.5;
      ctx.beginPath(); ctx.moveTo(a.left, ty); ctx.lineTo(a.right, ty); ctx.stroke();
      ctx.fillStyle = TXT;
      drawCentered(ctx, p.title, p.titleAt[0], p.titleAt[1], 17, 0);
      const mid = (a.top + a.bottom) / 2;
      p.leftX.forEach((x, i) => drawCentered(ctx, leftTitle[i], x, mid, 15.5, -Math.PI / 2));
      drawCentered(ctx, tempTitle, p.rightX[0], mid, 15.5, -Math.PI / 2);
      drawCentered(ctx, p.power, p.rightX[1], mid, 15.5, -Math.PI / 2);
      drawCentered(ctx, timeTitle, (a.left + a.right) / 2, p.timeY, 17, 0);
      if (p.legend) drawLegend(ctx, chart.data.datasets);
      ctx.restore();
    }
  };
}

function build(p) {
  const rightW = p.tickRight - p.plot.r;
  const datasets = seriesLabels.map((label, i) => ({
    label, data: pts(p.series[i]), yAxisID: seriesStyle[i].axis,
    borderColor: seriesStyle[i].color, borderWidth: seriesStyle[i].width, order: seriesStyle[i].order,
    pointRadius: 0, fill: false, tension: 0, borderJoinStyle: 'round'
  }));
  p.marks.forEach(t => datasets.push({
    label: '', data: [{ x: t, y: 0 }, { x: t, y: 30 }], yAxisID: 'y2',
    borderColor: '#8c8c8c', borderWidth: 1, borderDash: [4, 3], order: 9, pointRadius: 0, fill: false
  }));
  const tickFont = { family: FONT, size: 17 };
  const grid = { drawOnChartArea: false, color: p.axis, tickLength: 4, lineWidth: 1 };
  new Chart(document.getElementById(p.canvas), {
    type: 'line',
    data: { datasets },
    options: {
      responsive: false, animation: false, devicePixelRatio: 1,
      layout: { padding: { left: p.plot.l - LEFT_W, right: 1336 - p.tickRight, top: p.plot.t, bottom: 462 - p.plot.b - X_H } },
      plugins: { legend: { display: false }, tooltip: { enabled: false } },
      scales: {
        x: { type: 'linear', min: 0, max: 240,
             ticks: { stepSize: 60, color: TXT, font: tickFont, padding: p.xPad, maxRotation: 0, autoSkip: false },
             grid: Object.assign({}, grid, { color: p.bottom }), border: { color: p.bottom },
             afterFit: s => { s.height = X_H; } },
        y: { position: 'left', min: 0, max: 120,
             ticks: { stepSize: 20, color: TXT, font: tickFont, padding: p.yPad, autoSkip: false },
             grid, border: { color: p.axis },
             afterFit: s => { s.width = LEFT_W; } },
        y2: { position: 'right', min: 0, max: 30,
              ticks: { stepSize: 5, color: TXT, font: tickFont, padding: 4, crossAlign: 'far', autoSkip: false },
              grid, border: { color: p.axis },
              afterFit: s => { s.width = rightW; } }
      }
    },
    plugins: [textPlugin(p)]
  });
}
panels.forEach(build);
</script>
</body>
</html>
